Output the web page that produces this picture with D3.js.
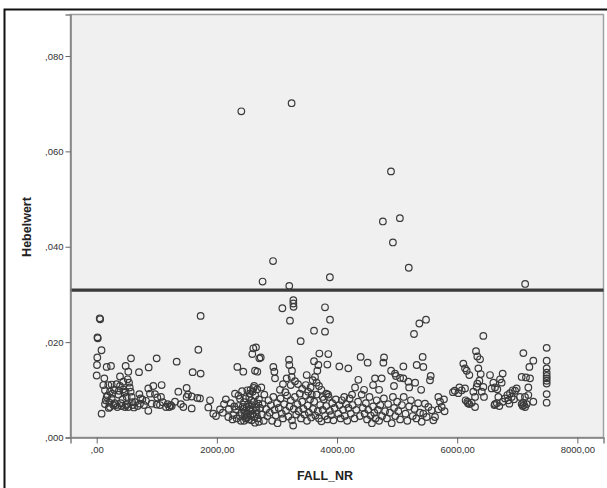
<!DOCTYPE html>
<html><head><meta charset="utf-8">
<script src="https://cdn.jsdelivr.net/npm/d3@7"></script>
<style>html,body{margin:0;padding:0;background:#fff;}svg{display:block;}</style>
</head><body>
<script>
// ---- data (FALL_NR, Hebelwert) ----
const outliers = [[2407,0.0684],[3244,0.0701],[4898,0.0558],[4763,0.0453],[5046,0.0460],[4930,0.0409],[2935,0.0370],[5194,0.0356],[3881,0.0336],[2761,0.0327],[3205,0.0318],[7131,0.0322]];

const cases0to2000 = [[0,0.0130],[5,0.0152],[10,0.0168],[12,0.0210],[18,0.0208],[50,0.0250],[58,0.0248],[80,0.0183],[82,0.0050],
[110,0.0110],[127,0.0124],[138,0.0099],[138,0.0070],[150,0.0078],[166,0.0148],[166,0.0085],[180,0.0088],[193,0.0110],[200,0.0062],[210,0.0073],[221,0.0096],[221,0.0064],[238,0.0150],[249,0.0111],[249,0.0082],[260,0.0092],[277,0.0068],[290,0.0100],[300,0.0072],[320,0.0068],[330,0.0112],[343,0.0064],[360,0.0090],[370,0.0098],[388,0.0128],[388,0.0108],[400,0.0072],[415,0.0066],[430,0.0080],[443,0.0117],[443,0.0101],[460,0.0094],[471,0.0064],[482,0.0150],[482,0.0096],[490,0.0068],[499,0.0085],[510,0.0070],[515,0.0122],[526,0.0138],[526,0.0064],[538,0.0115],[550,0.0105],[565,0.0096],[571,0.0166],[582,0.0085],[590,0.0074],[600,0.0068],[620,0.0063],[640,0.0074],[680,0.0066],[704,0.0137],[710,0.0091],[720,0.0071],[730,0.0082],[760,0.0080],[787,0.0068],[820,0.0077],[859,0.0056],[859,0.0103],[865,0.0147],[887,0.0092],[915,0.0071],[942,0.0108],[970,0.0091],[998,0.0166],[998,0.0069],[1009,0.0084],[1053,0.0068],[1070,0.0085],[1081,0.0110],[1100,0.0074],[1153,0.0064],[1180,0.0070],[1209,0.0064],[1230,0.0068],[1248,0.0066],[1303,0.0075],[1331,0.0159],[1359,0.0096],[1400,0.0070],[1442,0.0064],[1497,0.0104],[1497,0.0085],[1520,0.0090],[1581,0.0086],[1581,0.0061],[1597,0.0137],[1675,0.0083],[1692,0.0184],[1719,0.0082],[1730,0.0134],[1730,0.0255],[1858,0.0063],[1886,0.0078],[1941,0.0050],[1986,0.0045]];

const cases2000to2800 = [[2052,0.0059],[2100,0.0052],[2119,0.0070],[2150,0.0080],[2191,0.0043],[2200,0.0060],[2230,0.0072],[2260,0.0038],[2274,0.0047],[2290,0.0065],[2302,0.0092],[2318,0.0059],[2330,0.0040],[2341,0.0148],[2357,0.0066],[2360,0.0088],[2385,0.0081],[2385,0.0045],[2400,0.0035],[2413,0.0052],[2420,0.0097],[2429,0.0064],[2440,0.0138],[2440,0.0060],[2452,0.0074],[2452,0.0035],[2460,0.0045],[2468,0.0056],[2480,0.0082],[2480,0.0040],[2496,0.0064],[2500,0.0050],[2507,0.0099],[2507,0.0042],[2520,0.0070],[2530,0.0038],[2540,0.0085],[2540,0.0060],[2550,0.0092],[2551,0.0056],[2560,0.0046],[2560,0.0100],[2570,0.0078],[2579,0.0068],[2579,0.0036],[2590,0.0175],[2595,0.0050],[2596,0.0096],[2600,0.0058],[2607,0.0187],[2610,0.0104],[2618,0.0075],[2620,0.0043],[2620,0.0108],[2635,0.0140],[2635,0.0031],[2640,0.0088],[2651,0.0189],[2651,0.0064],[2660,0.0057],[2662,0.0049],[2673,0.0138],[2673,0.0101],[2680,0.0040],[2690,0.0071],[2700,0.0080],[2700,0.0033],[2707,0.0166],[2720,0.0062],[2730,0.0168],[2740,0.0105],[2750,0.0048],[2760,0.0070],[2780,0.0035],[2790,0.0090]];

const cases2800to4000 = [[2940,0.0148],[2957,0.0138],[2968,0.0124],[3201,0.0163],[3206,0.0152],[3245,0.0127],[3162,0.0124],[3706,0.0176],[3855,0.0175],[3617,0.0160],[3689,0.0152],[3672,0.0140],[3633,0.0127],[3595,0.0120],[3839,0.0153],[3495,0.0131],[3273,0.0288],[3273,0.0281],[3276,0.0274],[3090,0.0271],[3800,0.0273],[3217,0.0245],[3883,0.0247],[3617,0.0224],[3800,0.0222],[3395,0.0202],[3250,0.0140],[3230,0.0110],[3100,0.0112],[3050,0.0100],[3140,0.0095],[3300,0.0118],[3350,0.0112],[3420,0.0102],[3480,0.0110],[3520,0.0096],[3560,0.0105],[3580,0.0090],[3660,0.0115],[3700,0.0108],[3740,0.0100],[3760,0.0085],[3820,0.0092],[3850,0.0090],
[2820,0.0060],[2840,0.0045],[2860,0.0078],[2880,0.0052],[2900,0.0068],[2920,0.0035],[2940,0.0085],[2960,0.0058],[2980,0.0046],[3000,0.0072],[3010,0.0030],[3030,0.0062],[3060,0.0082],[3080,0.0050],[3100,0.0040],[3120,0.0070],[3150,0.0056],[3170,0.0088],[3190,0.0044],[3210,0.0065],[3230,0.0078],[3250,0.0036],[3270,0.0025],[3280,0.0060],[3300,0.0085],[3320,0.0048],[3340,0.0070],[3360,0.0055],[3380,0.0092],[3400,0.0040],[3420,0.0075],[3440,0.0060],[3460,0.0048],[3480,0.0088],[3500,0.0035],[3510,0.0067],[3530,0.0052],[3550,0.0080],[3570,0.0042],[3600,0.0060],[3620,0.0075],[3640,0.0046],[3660,0.0090],[3680,0.0055],[3700,0.0040],[3720,0.0068],[3740,0.0034],[3760,0.0058],[3780,0.0080],[3800,0.0045],[3820,0.0066],[3840,0.0038],[3860,0.0085],[3880,0.0056],[3900,0.0047],[3920,0.0072],[3940,0.0036],[3960,0.0062],[3980,0.0080]];

const cases4000to5800 = [[4038,0.0149],[4188,0.0145],[4393,0.0169],[4510,0.0157],[4782,0.0168],[4771,0.0157],[5104,0.0149],[5326,0.0152],[5436,0.0148],[5425,0.0169],[5559,0.0129],[5547,0.0120],[4355,0.0121],[4965,0.0134],[4981,0.0129],[4948,0.0108],[5104,0.0124],[5187,0.0117],[4632,0.0124],[4743,0.0124],[5481,0.0247],[5370,0.0239],[5281,0.0217],[4900,0.0140],[5050,0.0125],[5200,0.0105],[4600,0.0110],[4450,0.0100],[4300,0.0105],[4700,0.0100],[5300,0.0115],[5400,0.0100],[4120,0.0085],[4250,0.0090],
[4020,0.0050],[4040,0.0068],[4060,0.0040],[4080,0.0078],[4100,0.0058],[4130,0.0045],[4150,0.0070],[4170,0.0035],[4190,0.0062],[4210,0.0082],[4230,0.0050],[4260,0.0068],[4290,0.0040],[4320,0.0058],[4350,0.0075],[4380,0.0045],[4410,0.0090],[4430,0.0062],[4460,0.0050],[4480,0.0072],[4500,0.0038],[4520,0.0058],[4540,0.0085],[4560,0.0046],[4580,0.0030],[4600,0.0065],[4620,0.0052],[4640,0.0040],[4660,0.0078],[4680,0.0058],[4700,0.0035],[4720,0.0068],[4750,0.0045],[4780,0.0082],[4800,0.0055],[4830,0.0040],[4850,0.0070],[4880,0.0052],[4910,0.0030],[4930,0.0085],[4950,0.0062],[4970,0.0045],[5000,0.0075],[5020,0.0055],[5050,0.0038],[5080,0.0068],[5110,0.0085],[5140,0.0050],[5170,0.0035],[5200,0.0065],[5230,0.0078],[5260,0.0045],[5290,0.0060],[5320,0.0040],[5350,0.0072],[5380,0.0052],[5409,0.0033],[5436,0.0050],[5464,0.0071],[5492,0.0043],[5520,0.0064],[5575,0.0057],[5603,0.0036],[5631,0.0043],[5686,0.0085],[5714,0.0075],[5742,0.0064],[5686,0.0059],[5780,0.0080],[5790,0.0055]];

const cases5900to7500 = [[5930,0.0095],[5960,0.0098],[6019,0.0093],[6036,0.0105],[6075,0.0099],[6102,0.0155],[6130,0.0145],[6130,0.0103],[6140,0.0078],[6158,0.0140],[6169,0.0075],[6180,0.0072],[6202,0.0131],[6202,0.0070],[6241,0.0073],[6269,0.0096],[6297,0.0085],[6297,0.0064],[6313,0.0181],[6324,0.0106],[6335,0.0170],[6335,0.0113],[6352,0.0145],[6369,0.0119],[6380,0.0164],[6391,0.0133],[6408,0.0096],[6435,0.0213],[6435,0.0106],[6446,0.0085],[6546,0.0131],[6574,0.0103],[6602,0.0115],[6620,0.0068],[6629,0.0105],[6629,0.0070],[6660,0.0072],[6668,0.0101],[6685,0.0085],[6701,0.0066],[6713,0.0122],[6740,0.0115],[6757,0.0134],[6757,0.0075],[6796,0.0082],[6835,0.0089],[6851,0.0078],[6868,0.0071],[6879,0.0093],[6907,0.0085],[6924,0.0099],[6946,0.0080],[6963,0.0098],[6990,0.0103],[7045,0.0085],[7073,0.0127],[7073,0.0070],[7090,0.0066],[7101,0.0177],[7101,0.0073],[7112,0.0068],[7128,0.0085],[7130,0.0064],[7145,0.0126],[7156,0.0070],[7184,0.0105],[7184,0.0089],[7201,0.0148],[7212,0.0124],[7267,0.0161],[7267,0.0075],[7489,0.0188],[7489,0.0161],[7489,0.0145],[7489,0.0136],[7489,0.0129],[7489,0.0124],[7489,0.0119],[7489,0.0113],[7489,0.0091],[7489,0.0073]];

const referenceLine = 0.0309;
const xTicks = [0, 2000, 4000, 6000, 8000];
const xTickLabels = [",00", "2000,00", "4000,00", "6000,00", "8000,00"];
const yTicks = [0, 0.02, 0.04, 0.06, 0.08];
const yTickLabels = [",000", ",020", ",040", ",060", ",080"];
const xTitle = "FALL_NR";
const yTitle = "Hebelwert";

// ---- drawing ----
const W = 607, H = 488;
const plot = {left: 70.5, right: 603.5, top: 14.5, bottom: 437.5};
const svg = d3.select("body").append("svg").attr("width", W).attr("height", H);

// outer frame
svg.append("rect").attr("x", 4.5).attr("y", 9.5).attr("width", 610).attr("height", 490)
  .attr("fill", "#fff").attr("stroke", "#111").attr("stroke-width", 2);

const x = d3.scaleLinear().domain([-436, 8435]).range([plot.left, plot.right]);
const y = d3.scaleLinear().domain([0, 0.0887]).range([plot.bottom, plot.top]);

svg.append("rect").attr("x", plot.left).attr("y", plot.top)
  .attr("width", plot.right - plot.left).attr("height", plot.bottom - plot.top)
  .attr("fill", "#f0f0f0").attr("stroke", "#a0a0a0").attr("stroke-width", 1.5);

const allCases = [].concat(outliers, cases0to2000, cases2000to2800, cases2800to4000, cases4000to5800, cases5900to7500);

svg.append("line").attr("x1", plot.left).attr("x2", plot.right)
  .attr("y1", y(referenceLine)).attr("y2", y(referenceLine))
  .attr("stroke", "#3a3a3a").attr("stroke-width", 3.2);

svg.append("g").selectAll("circle").data(allCases).join("circle")
  .attr("cx", d => x(d[0])).attr("cy", d => y(d[1])).attr("r", 3.3)
  .attr("fill", "none").attr("stroke", "#3a3a3a").attr("stroke-width", 1.2);

const xAxis = d3.axisBottom(x).tickValues(xTicks).tickSize(6).tickPadding(3)
  .tickFormat((d, i) => xTickLabels[i]);
const gx = svg.append("g").attr("transform", `translate(0,${plot.bottom})`).call(xAxis);
gx.select(".domain").attr("stroke", "#808080").attr("stroke-width", 1.5);
gx.selectAll(".tick line").attr("stroke", "#666");
gx.selectAll("text").attr("font-family", "Liberation Sans, Arial, sans-serif").attr("font-size", 9.5).attr("fill", "#333");

const yAxis = d3.axisLeft(y).tickValues(yTicks).tickSize(5).tickPadding(2)
  .tickFormat((d, i) => yTickLabels[i]);
const gy = svg.append("g").attr("transform", `translate(${plot.left},0)`).call(yAxis);
gy.select(".domain").attr("stroke", "#808080").attr("stroke-width", 1.5);
gy.selectAll(".tick line").attr("stroke", "#666");
gy.selectAll("text").attr("font-family", "Liberation Sans, Arial, sans-serif").attr("font-size", 9.5).attr("fill", "#333");

svg.append("text").attr("x", 325).attr("y", 480).attr("text-anchor", "middle")
  .attr("font-family", "Liberation Sans, Arial, sans-serif").attr("font-weight", "bold")
  .attr("font-size", 12.5).attr("fill", "#222").text(xTitle);

svg.append("text").attr("transform", "translate(31,227) rotate(-90)").attr("text-anchor", "middle")
  .attr("font-family", "Liberation Sans, Arial, sans-serif").attr("font-weight", "bold")
  .attr("font-size", 12.5).attr("fill", "#222").text(yTitle);
</script>
</body></html>
